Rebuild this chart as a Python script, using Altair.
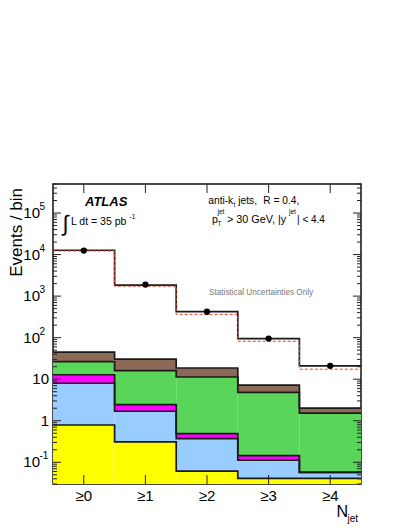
import altair as alt
import pandas as pd
import numpy as np

# ---------------- data ----------------
bins = [0, 1, 2, 3, 4]
bin_labels = ["≥0", "≥1", "≥2", "≥3", "≥4"]

comp_names = ["yellow", "light blue", "magenta", "green", "brown"]
comp_colors = ["#ffff00", "#99ccff", "#ff00ff", "#59d659", "#8c6a57"]
yellow = [0.79, 0.31, 0.061, 0.041, 0.041]
light_blue = [7.2, 1.38, 0.31, 0.072, 0.016]
magenta = [4.8, 0.76, 0.12, 0.031, 0.0]
green = [13.7, 13.6, 10.8, 4.66, 1.47]
brown = [18.2, 14.5, 7.3, 2.4, 0.49]
mc_total = [12700, 1830, 422, 95, 21]
mc_alt = [12200, 1730, 363, 82, 17.4]
data_vals = [12500, 1900, 420, 95, 21]

ytick_major = [0.1, 1, 10, 100, 1000, 10000, 100000]
ytick_base = ["10", "1", "10", "10", "10", "10", "10"]
ytick_exp = ["-1", "", "", "2", "3", "4", "5"]
Y_MIN, Y_MAX = 0.03, 5e5

# ---------------- tables ----------------
comps = [yellow, light_blue, magenta, green, brown]
cum = np.cumsum(np.array(comps), axis=0)
rect_rows = []
for i, name in enumerate(comp_names):
    for b in bins:
        lo = Y_MIN if i == 0 else cum[i - 1][b]
        rect_rows.append(dict(comp=name, x0=b - 0.5, x1=b + 0.5, lo=lo, hi=cum[i][b]))
rect_df = pd.DataFrame(rect_rows)

edges = [b - 0.5 for b in bins] + [bins[-1] + 0.5]
def step_rows(vals, level):
    v = list(vals) + [vals[-1]]
    return [dict(level=level, edge=e, val=float(x)) for e, x in zip(edges, v)]

line_rows = []
for i, name in enumerate(comp_names):
    line_rows += step_rows(cum[i], name)
line_rows += step_rows(mc_total, "total")
line_df = pd.DataFrame(line_rows)
alt_df = pd.DataFrame(step_rows(mc_alt, "alt"))
pts_df = pd.DataFrame(dict(b=bins, v=data_vals))

minor = []
for d in range(-2, 6):
    for k in range(2, 10):
        v = k * 10.0 ** d
        if Y_MIN <= v <= Y_MAX:
            minor.append(v)
ymaj_df = pd.DataFrame(dict(v=ytick_major, base=ytick_base, exp=ytick_exp))
ymin_df = pd.DataFrame(dict(v=minor))
xtick_df = pd.DataFrame(dict(b=bins, label=bin_labels))

FONT = "Liberation Sans"
W, H = 308, 300
xscale = alt.Scale(domain=[-0.5, 4.5], nice=False, zero=False)
yscale = alt.Scale(type="log", domain=[Y_MIN, Y_MAX], nice=False)
X = lambda f: alt.X(f, scale=xscale, axis=None)
Y = lambda f: alt.Y(f, scale=yscale, axis=None)

rects = alt.Chart(rect_df).mark_rect(strokeWidth=0).encode(
    x=X("x0:Q"), x2="x1:Q", y=Y("hi:Q"), y2="lo:Q",
    color=alt.Color("comp:N", scale=alt.Scale(domain=comp_names, range=comp_colors), legend=None),
)

lines = alt.Chart(line_df).mark_line(interpolate="step-after", color="#1a1a1a", strokeWidth=1.7).encode(
    x=X("edge:Q"), y=Y("val:Q"), detail="level:N",
)

alt_line = alt.Chart(alt_df).mark_line(interpolate="step-after", color="#e8452a",
                                      strokeWidth=1, strokeDash=[3, 2]).encode(
    x=X("edge:Q"), y=Y("val:Q"),
)

points = alt.Chart(pts_df).mark_circle(size=40, color="black", opacity=1).encode(
    x=X("b:Q"), y=Y("v:Q"),
)

TC = "#222222"
def yticks(df, x0, x1):
    return alt.Chart(df).mark_rule(color=TC, strokeWidth=1).encode(
        y=Y("v:Q"), x=alt.value(x0), x2=alt.value(x1))

def xticks(y0, y1):
    return alt.Chart(xtick_df).mark_rule(color=TC, strokeWidth=1).encode(
        x=X("b:Q"), y=alt.value(y0), y2=alt.value(y1))

ticks = [
    yticks(ymaj_df, 0, 8), yticks(ymaj_df, W - 8, W),
    yticks(ymin_df, 0, 4), yticks(ymin_df, W - 4, W),
    xticks(H - 9, H), xticks(0, 9),
]

ylab_plain = alt.Chart(ymaj_df).transform_filter("datum.exp == ''").mark_text(
    font=FONT, fontSize=15, align="right", baseline="middle", color="black").encode(
    y=Y("v:Q"), x=alt.value(-4), text="base:N")
ylab_base = alt.Chart(ymaj_df).transform_filter("datum.exp != ''").mark_text(
    font=FONT, fontSize=15, align="right", baseline="middle", color="black").encode(
    y=Y("v:Q"), x=alt.value(-13), text="base:N")
ylab_exp = alt.Chart(ymaj_df).transform_filter("datum.exp != ''").mark_text(
    font=FONT, fontSize=10, align="left", baseline="middle", color="black", dy=-6).encode(
    y=Y("v:Q"), x=alt.value(-13.5), text="exp:N")
xlabels = alt.Chart(xtick_df).mark_text(font=FONT, fontSize=15, align="center",
                                        baseline="middle", color="black").encode(
    x=X("b:Q"), y=alt.value(H + 12), text="label:N")

one = alt.InlineData(values=[{"a": 0}])
def txt(s, x, y, size, align="left", baseline="alphabetic", **kw):
    return alt.Chart(one).mark_text(text=s, fontSize=size, font=kw.pop("font", FONT),
                                    align=align, baseline=baseline, **kw).encode(
        x=alt.value(x), y=alt.value(y))

texts = [
    txt("ATLAS", 32, 21.5, 13, fontWeight="bold", fontStyle="italic"),
    txt("∫", 12.5, 40, 22, align="center", baseline="middle"),
    txt("L dt = 35 pb", 18, 40.5, 10.5),
    txt("-1", 76.5, 35, 6.5),
    txt("anti-k", 155.3, 20, 10.2),
    txt("t", 180.5, 22.5, 6.5),
    txt("jets,", 185.3, 20, 10.2),
    txt("R = 0.4,", 210.3, 20, 10.2),
    txt("p", 159, 38.5, 10.5),
    txt("jet", 164.5, 30, 6.5),
    txt("T", 164.5, 41.5, 6.5),
    txt("> 30 GeV, |y", 174, 38.5, 10.8),
    txt("jet", 236, 30, 6.5),
    txt("| < 4.4", 244, 38.5, 10),
    txt("Statistical Uncertainties Only", 156, 110.5, 8.2, color="#777777"),
    txt("Events / bin", -36, 4, 17, align="right", baseline="middle", angle=270),
    txt("N", 283.5, 333, 16),
    txt("jet", 294.5, 338, 10),
]

chart = alt.layer(rects, lines, alt_line, points, *ticks, ylab_plain, ylab_base, ylab_exp,
                  xlabels, *texts).properties(
    width=W, height=H,
    autosize=alt.AutoSizeParams(type="none"),
    padding={"left": 45, "top": 176, "right": 30, "bottom": 40},
    background="white",
).configure_view(stroke="#111", strokeWidth=1.5)

chart.save("out.html", embed_options={"renderer": "svg", "actions": False})
